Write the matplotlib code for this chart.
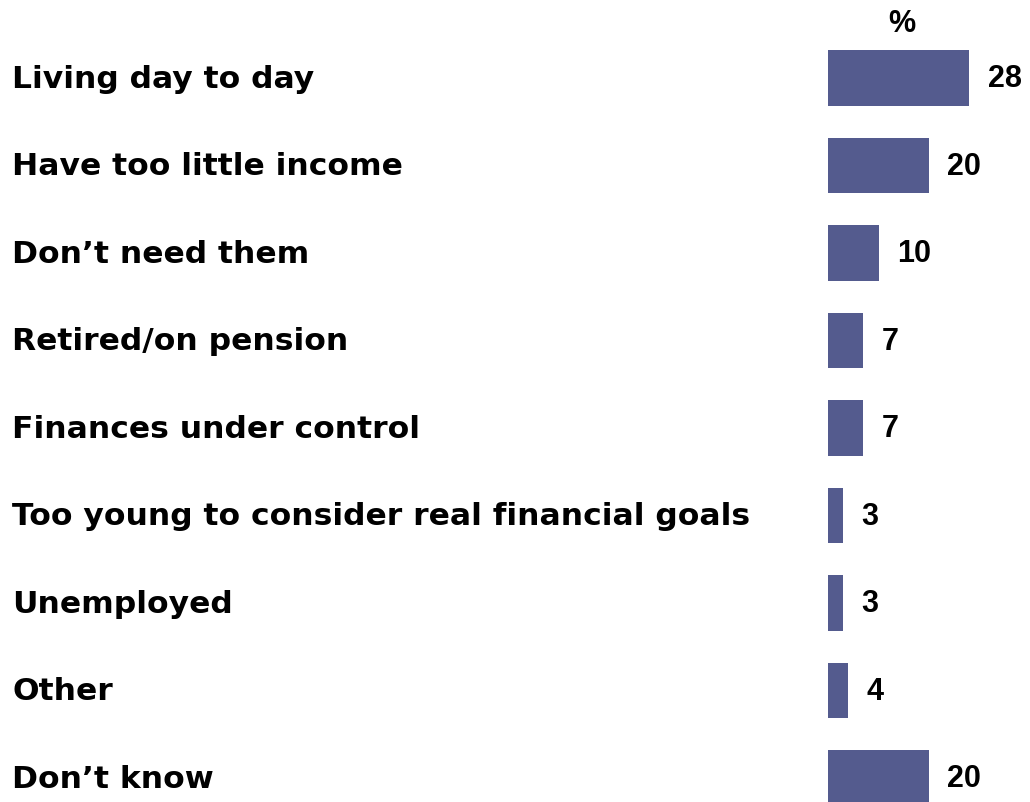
import matplotlib.pyplot as plt
import matplotlib.transforms as mtransforms

plt.rcParams['font.family'] = ['Liberation Sans', 'DejaVu Sans']
plt.rcParams['font.weight'] = 'bold'

categories = [
    "Living day to day",
    "Have too little income",
    "Don\u2019t need them",
    "Retired/on pension",
    "Finances under control",
    "Too young to consider real financial goals",
    "Unemployed",
    "Other",
    "Don\u2019t know",
]
values = [28, 20, 10, 7, 7, 3, 3, 4, 20]
bar_color = "#545B8E"

fig = plt.figure(figsize=(10.30, 8.03), dpi=100)
ax = fig.add_axes([828 / 1030, 0, 202 / 1030, 1])

ypos = list(range(len(categories)))
bars = ax.barh(ypos, values, height=0.63, color=bar_color, left=0)

ax.set_xlim(0, 40)
ax.set_ylim(8.274, -0.903)
ax.axis("off")

# category names sit at the left edge of the figure, aligned with each bar
trans = mtransforms.blended_transform_factory(fig.transFigure, ax.transData)
for y, name in zip(ypos, categories):
    ax.text(12 / 1030, y, name, transform=trans, ha="left", va="center",
            fontsize=22.6, fontweight="bold", family="DejaVu Sans", clip_on=False)

for y, v in zip(ypos, values):
    ax.text(v + 3.6, y, str(v), ha="left", va="center",
            fontsize=22, fontweight="bold", clip_on=False)

fig.text(902 / 1030, 1 - 24 / 803, "%", ha="center", va="center",
         fontsize=22, fontweight="bold")

fig.savefig("out.png", dpi=100)
